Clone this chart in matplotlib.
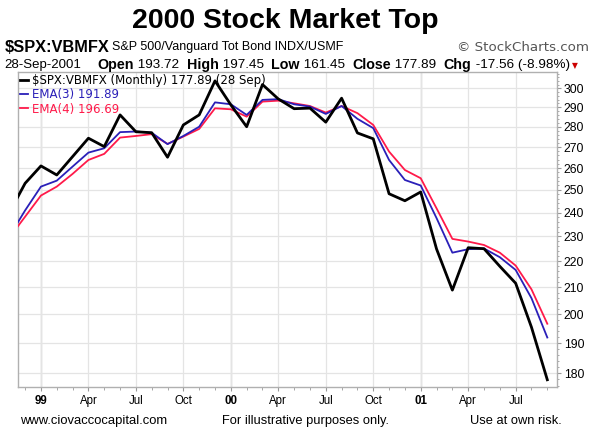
import numpy as np
import pandas as pd
import matplotlib
matplotlib.use("Agg")
import matplotlib.pyplot as plt
from matplotlib.ticker import FixedLocator, NullFormatter, FixedFormatter

plt.rcParams['font.family'] = ['Liberation Sans', 'DejaVu Sans']

months = pd.date_range("1998-11-01", "2001-09-01", freq="MS")

price = [240.0, 253.0, 261.0, 256.8, 265.4, 274.3, 270.2, 286.0, 277.5, 277.0,
         265.1, 280.9, 286.0, 304.0, 291.2, 280.0, 302.0, 294.3, 289.2, 289.5,
         282.3, 294.7, 276.9, 274.0, 248.3, 245.2, 249.1, 224.9, 208.9, 225.4,
         225.0, 218.0, 211.5, 195.45, 177.89]
ema3 = [230.0, 241.0, 251.5, 254.2, 260.7, 267.3, 269.4, 277.3, 277.6, 277.0,
        271.4, 275.4, 280.0, 292.5, 291.5, 286.0, 293.8, 294.2, 291.5, 290.3,
        286.5, 290.6, 284.0, 279.3, 263.8, 254.5, 252.0, 237.7, 223.4, 224.8,
        225.1, 221.6, 216.6, 205.9, 191.89]
ema4 = [229.5, 238.3, 247.5, 251.5, 257.3, 263.8, 266.7, 274.6, 275.4, 276.3,
        271.5, 275.1, 278.9, 289.4, 288.9, 285.1, 292.9, 293.4, 292.0, 290.6,
        287.2, 290.6, 286.9, 280.9, 267.8, 259.1, 255.3, 241.9, 229.0, 227.9,
        226.5, 223.4, 218.3, 209.2, 196.69]

yticks = [180, 190, 200, 210, 220, 230, 240, 250, 260, 270, 280, 290, 300]
legend_labels = ["$SPX:VBMFX (Monthly) 177.89 (28 Sep)", "EMA(3) 191.89", "EMA(4) 196.69"]

x = np.arange(len(months))

fig = plt.figure(figsize=(6, 4.4), dpi=100)
ax = fig.add_axes([0.030, 0.1205, 0.898, 0.716])

c_black, c_blue, c_red = '#000000', '#2a1fb8', '#ff1a4a'
l1, = ax.plot(x, price, color=c_black, lw=2.0, zorder=5)
l2, = ax.plot(x, ema3, color=c_blue, lw=1.3, zorder=4)
l3, = ax.plot(x, ema4, color=c_red, lw=1.3, zorder=3)

ax.set_yscale('log')
ax.yaxis.set_major_locator(FixedLocator(yticks))
ax.yaxis.set_major_formatter(FixedFormatter([str(v) for v in yticks]))
ax.yaxis.set_minor_locator(FixedLocator([v for v in range(176, 309, 2) if v % 10]))
ax.yaxis.set_minor_formatter(NullFormatter())
ax.yaxis.tick_right()

# x ticks: quarterly labels
tick_pos, tick_lab = [], []
for i, d in enumerate(months):
    if d.month in (1, 4, 7, 10):
        tick_pos.append(i)
        tick_lab.append(f"{d.year % 100:02d}" if d.month == 1 else d.strftime("%b"))
ax.xaxis.set_major_locator(FixedLocator(tick_pos))
ax.xaxis.set_major_formatter(FixedFormatter(tick_lab))
ax.xaxis.set_minor_locator(FixedLocator(list(x)))

for i, d in enumerate(months):
    if d.month == 1:
        ax.axvline(i, color='#cfcfcf', lw=1.0, zorder=0)

ax.set_ylim(175.6, 308.9)
ax.set_xlim(0.55, len(months) - 1 + 0.6)

ax.tick_params(axis='x', which='major', length=3, color='#999999', labelsize=8.3, pad=3)
ax.tick_params(axis='x', which='minor', length=2, color='#999999')
ax.tick_params(axis='y', which='major', length=3, color='#999999', labelsize=8.8, pad=2)
ax.tick_params(axis='y', which='minor', length=1.5, color='#999999')

ax.grid(True, which='major', color='#e4e4e4', lw=0.9)
for s in ax.spines.values():
    s.set_color('#b0b0b0')
    s.set_linewidth(1.0)

fig.canvas.draw()
for lab in ax.get_xticklabels():
    if lab.get_text().isdigit():
        lab.set_fontweight('bold')

leg = ax.legend([l1, l2, l3], legend_labels, loc='upper left', frameon=False,
                handlelength=0.7, handletextpad=0.3, labelspacing=0.12,
                borderaxespad=0.05, borderpad=0.1, prop={'family': 'DejaVu Sans', 'size': 8.5})
for t, c in zip(leg.get_texts(), [c_black, c_blue, c_red]):
    t.set_color(c)

# Header texts
fig.text(0.475, 0.953, "2000 Stock Market Top", ha='center', va='center',
         fontsize=20.5, fontweight='bold')
fig.text(0.008, 0.893, "$SPX:VBMFX", ha='left', va='center', fontsize=11.8, fontweight='bold')
fig.text(0.187, 0.893, "S&P 500/Vanguard Tot Bond INDX/USMF", ha='left', va='center', fontsize=9.0)
fig.text(0.982, 0.893, "© StockCharts.com", ha='right', va='center', fontsize=9.6,
         color='#555555', family='DejaVu Sans')

y2 = 0.852
fig.text(0.008, y2, "28-Sep-2001", ha='left', va='center', fontsize=9.5)
parts = [("Open", True), (" 193.72  ", False), ("High", True), (" 197.45  ", False),
         ("Low", True), (" 161.45  ", False), ("Close", True), (" 177.89  ", False),
         ("Chg", True), (" -17.56 (-8.98%)", False)]
fig.canvas.draw()
renderer = fig.canvas.get_renderer()
xpos = 0.163
for txt, bold in parts:
    t = fig.text(xpos, y2, txt, ha='left', va='center', fontsize=10.3 if bold else 9.7,
                 fontweight='bold' if bold else 'normal')
    bb = t.get_window_extent(renderer=renderer)
    xpos += bb.width / fig.bbox.width
fig.text(xpos + 0.004, y2, "▼", ha='left', va='center', fontsize=5.5, color='#cc0000',
         family='DejaVu Sans')

# Footer
fy = 0.043
fig.text(0.033, fy, "www.ciovaccocapital.com", ha='left', va='center', fontsize=9.4)
fig.text(0.37, fy, "For illustrative purposes only.", ha='left', va='center', fontsize=9.3)
fig.text(0.783, fy, "Use at own risk.", ha='left', va='center', fontsize=9.3)

fig.savefig("out.png", dpi=100)
